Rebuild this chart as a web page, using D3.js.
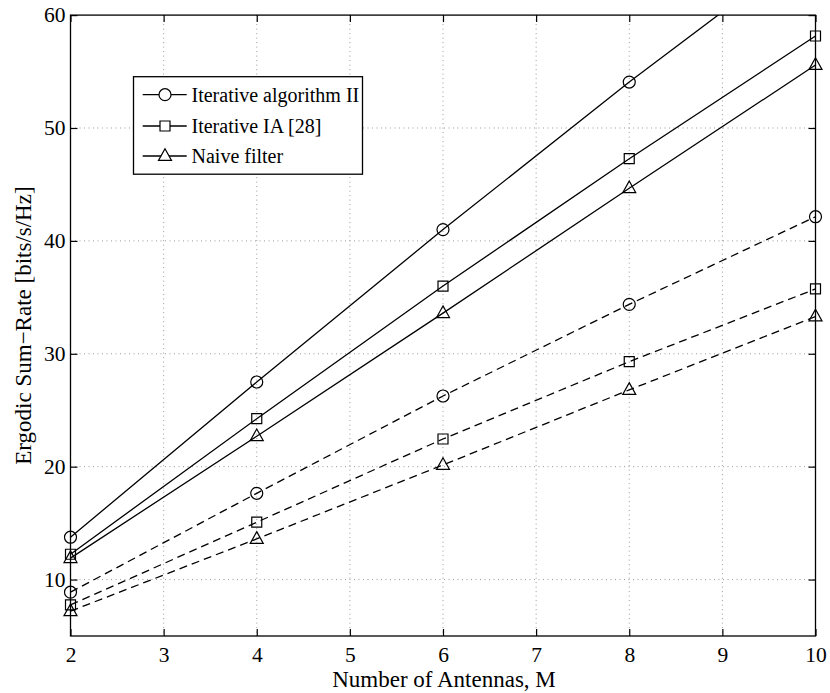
<!DOCTYPE html>
<html>
<head>
<meta charset="utf-8">
<script src="https://cdn.jsdelivr.net/npm/d3@7"></script>
<style>
  body { margin: 0; background: #fff; }
  svg { display: block; font-family: "Liberation Serif", "Times New Roman", serif; }
</style>
</head>
<body>
<svg id="chart" width="830" height="693"></svg>
<script>
// ---- data ----
const antennas = [2, 4, 6, 8, 10];
const xTicks = [2, 3, 4, 5, 6, 7, 8, 9, 10];
const yTicks = [10, 20, 30, 40, 50, 60];

const iterAlgII_solid = [13.75, 27.5, 41.0, 54.07, 66.5];
const iterIA_solid    = [12.24, 24.25, 36.0, 47.28, 58.15];
const naive_solid     = [11.9, 22.7, 33.6, 44.66, 55.58];

const iterAlgII_dash  = [8.88, 17.64, 26.26, 34.38, 42.14];
const iterIA_dash     = [7.75, 15.08, 22.45, 29.3, 35.74];
const naive_dash      = [7.2, 13.6, 20.15, 26.8, 33.3];

const legendLabels = ["Iterative algorithm II", "Iterative IA [28]", "Naive filter"];
const xTitle = "Number of Antennas, M";
const yTitle = "Ergodic Sum\u2212Rate [bits/s/Hz]";

// ---- layout ----
const svg = d3.select("#chart");
const L = 70.5, R = 815.5, T = 15.1, B = 636;
const x = d3.scaleLinear().domain([2, 10]).range([L, R]);
const y = d3.scaleLinear().domain([5, 60]).range([B, T]);

const series = [
  { vals: iterAlgII_solid, marker: "circle", dash: null },
  { vals: iterIA_solid, marker: "square", dash: null },
  { vals: naive_solid, marker: "triangle", dash: null },
  { vals: iterAlgII_dash, marker: "circle", dash: "8,5" },
  { vals: iterIA_dash, marker: "square", dash: "8,5" },
  { vals: naive_dash, marker: "triangle", dash: "8,5" }
];

svg.append("defs").append("clipPath").attr("id", "clip")
  .append("rect").attr("x", L).attr("y", T).attr("width", R - L).attr("height", B - T);

// grid
const grid = svg.append("g").attr("stroke", "#9a9a9a").attr("stroke-width", 1)
  .attr("stroke-dasharray", "1,3.5");
grid.selectAll(".gx").data(xTicks.slice(1, -1)).join("line")
  .attr("x1", d => x(d)).attr("x2", d => x(d)).attr("y1", T).attr("y2", B);
grid.selectAll(".gy").data(yTicks.filter(d => d < 60)).join("line")
  .attr("x1", L).attr("x2", R).attr("y1", d => y(d)).attr("y2", d => y(d));

// axes (ticks inward)
const tickLen = 7;
const tickFont = 21.5;
const titleFont = 23;
const legendFont = 20;
const axB = svg.append("g").attr("transform", `translate(0,${B})`)
  .call(d3.axisBottom(x).tickValues(xTicks).tickSize(-tickLen).tickPadding(11).tickFormat(d3.format("d")));
const axT = svg.append("g").attr("transform", `translate(0,${T})`)
  .call(d3.axisTop(x).tickValues(xTicks).tickSize(-tickLen).tickFormat(""));
const axL = svg.append("g").attr("transform", `translate(${L},0)`)
  .call(d3.axisLeft(y).tickValues(yTicks).tickSize(-tickLen).tickPadding(12).tickFormat(d3.format("d")));
const axR = svg.append("g").attr("transform", `translate(${R},0)`)
  .call(d3.axisRight(y).tickValues(yTicks).tickSize(-tickLen).tickFormat(""));
[axB, axT, axL, axR].forEach(a => {
  a.select(".domain").remove();
  a.selectAll("line").attr("stroke", "#000").attr("stroke-width", 1.2);
  a.selectAll("text").attr("font-family", "Liberation Serif, Times New Roman, serif")
    .attr("font-size", tickFont).attr("fill", "#000");
});
axL.selectAll("text").attr("dx", "7");

// frame
svg.append("rect").attr("x", L).attr("y", T).attr("width", R - L).attr("height", B - T)
  .attr("fill", "none").attr("stroke", "#000").attr("stroke-width", 1.3);

// markers
const symbolPath = {
  circle: d3.symbol().type(d3.symbolCircle).size(Math.PI * 6 * 6)(),
  square: d3.symbol().type(d3.symbolSquare).size(10 * 10)()
};
function triPath(s) {
  const h = s * 0.9;
  return `M0,${-h * 0.62}L${s / 2},${h * 0.38}L${-s / 2},${h * 0.38}Z`;
}
function markerPath(m) { return m === "triangle" ? triPath(13) : symbolPath[m]; }

// lines
const lineGen = d3.line().x((d, i) => x(antennas[i])).y(d => y(d));
const plot = svg.append("g").attr("clip-path", "url(#clip)");
series.forEach(s => {
  plot.append("path").datum(s.vals).attr("d", lineGen)
    .attr("fill", "none").attr("stroke", "#000").attr("stroke-width", 1.3)
    .attr("stroke-dasharray", s.dash);
});
const mk = svg.append("g");
series.forEach(s => {
  mk.selectAll(null).data(s.vals.map((v, i) => [antennas[i], v]).filter(d => d[1] <= 60))
    .join("path").attr("d", markerPath(s.marker))
    .attr("transform", d => `translate(${x(d[0])},${y(d[1])})`)
    .attr("fill", "none").attr("stroke", "#000").attr("stroke-width", 1.2);
});

// legend
const lg = svg.append("g");
lg.append("rect").attr("x", 133.5).attr("y", 76.7).attr("width", 229).attr("height", 97.5)
  .attr("fill", "#fff").attr("stroke", "#000").attr("stroke-width", 1.3);
const rowsY = [94.7, 126, 156];
["circle", "square", "triangle"].forEach((m, i) => {
  lg.append("line").attr("x1", 142.7).attr("x2", 186.7).attr("y1", rowsY[i]).attr("y2", rowsY[i])
    .attr("stroke", "#000").attr("stroke-width", 1.3);
  lg.append("path").attr("d", markerPath(m)).attr("transform", `translate(165,${rowsY[i]})`)
    .attr("fill", "#fff").attr("stroke", "#000").attr("stroke-width", 1.2);
  lg.append("text").attr("x", 191.5).attr("y", rowsY[i] + 7).attr("font-size", legendFont)
    .text(legendLabels[i]);
});

// titles
svg.append("text").attr("x", 444).attr("y", 687).attr("text-anchor", "middle")
  .attr("font-size", titleFont).text(xTitle);
svg.append("text").attr("transform", `translate(31,${(T + B) / 2}) rotate(-90)`)
  .attr("text-anchor", "middle").attr("font-size", titleFont).text(yTitle);
</script>
</body>
</html>
